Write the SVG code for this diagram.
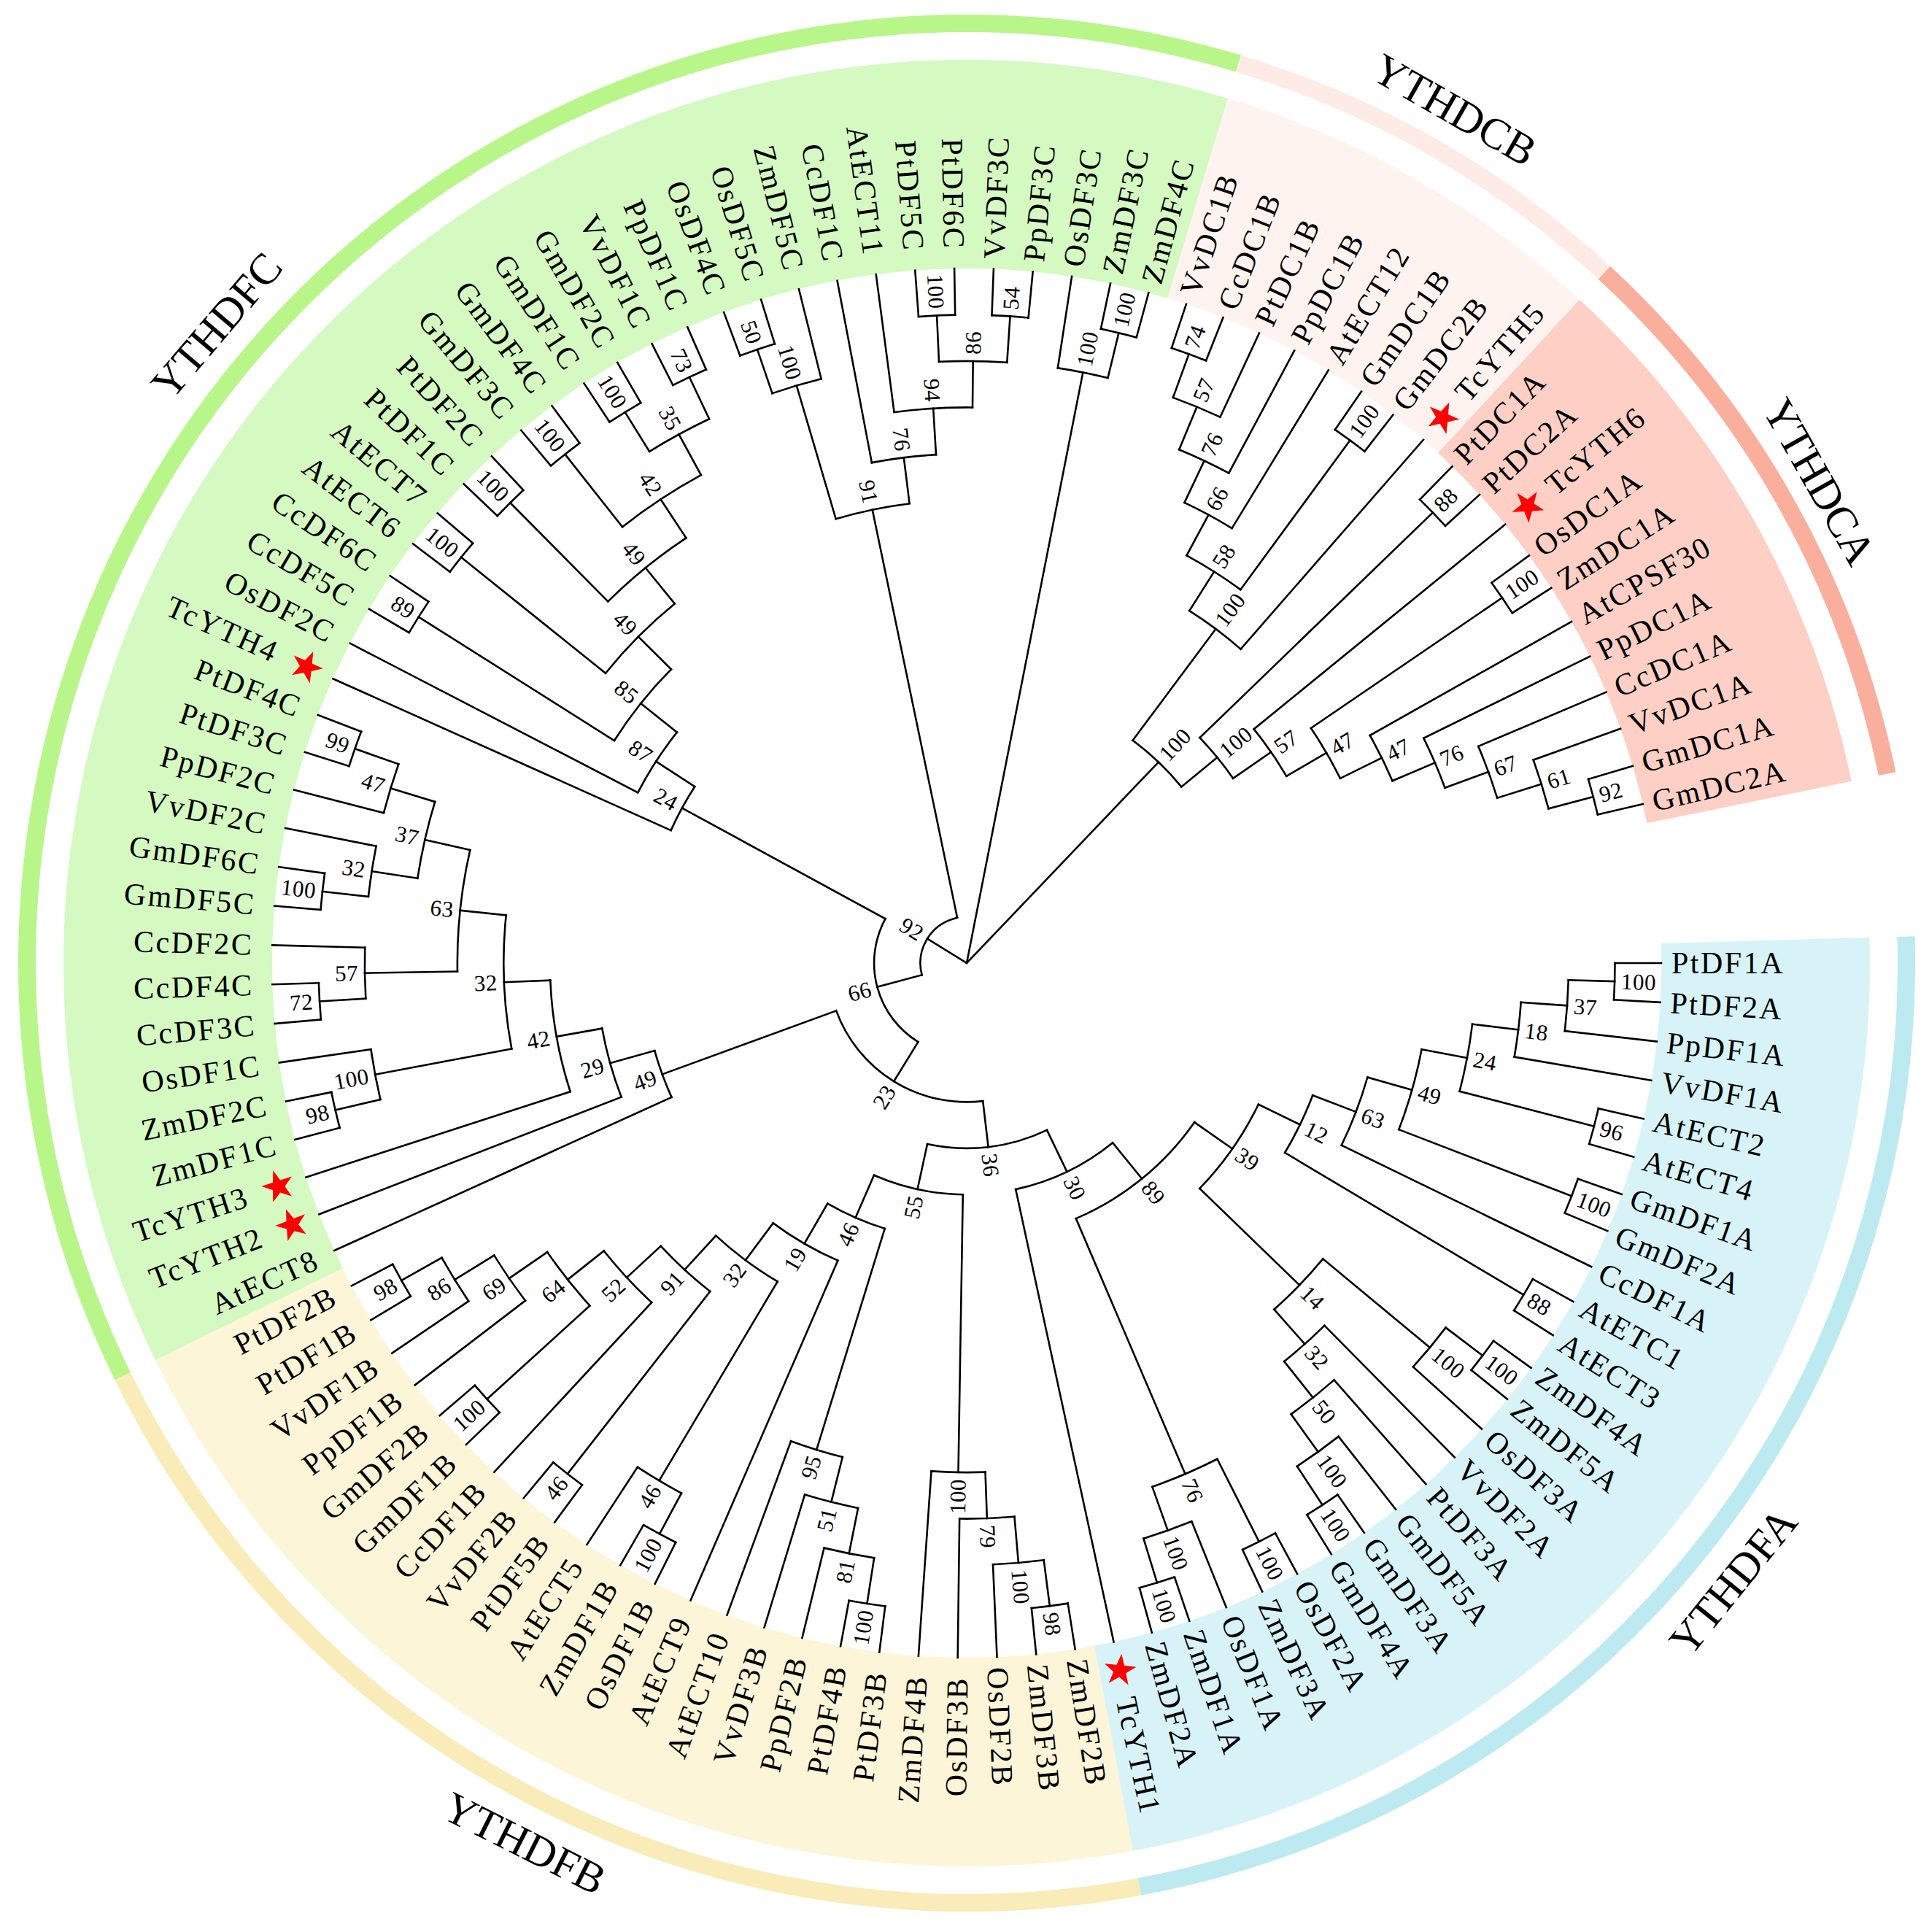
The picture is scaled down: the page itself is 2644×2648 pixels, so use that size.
<svg xmlns="http://www.w3.org/2000/svg" xmlns:xlink="http://www.w3.org/1999/xlink" width="2644" height="2648" viewBox="0 0 2644 2648">
<style>
.t{font-family:"Liberation Serif","Times New Roman",serif;font-size:42px;letter-spacing:2.5px;fill:#000}
.b{font-family:"Liberation Serif","Times New Roman",serif;font-size:31px;letter-spacing:0.5px;fill:#000}
.e{text-anchor:end}
.c{font-family:"Liberation Serif","Times New Roman",serif;font-size:60px;text-anchor:middle;fill:#000}
#connectors circle,#connectors path{fill:none;stroke:#000;stroke-width:2.6;stroke-linecap:square}
.bd{fill:none;stroke-width:286}
.rg{fill:none;stroke-width:24}
</style>
<defs>
<path id="s" d="M0,-23L5.29,-7.28L21.87,-7.11L8.56,2.78L13.52,18.61L0,9L-13.52,18.61L-8.56,2.78L-21.87,-7.11L-5.29,-7.28Z" fill="#ff0000"/>
</defs>
<rect width="2644" height="2648" fill="#fff"/>
<g transform="translate(1325 1320)">
<g id="bands">
<circle class="bd" r="1095" stroke="#d7f3f8" stroke-dasharray="1548.35 99999" transform="rotate(-1.6204)"/>
<circle class="bd" r="1095" stroke="#fcf5d7" stroke-dasharray="1424.48 99999" transform="rotate(79.3982)"/>
<circle class="bd" r="1095" stroke="#d4f9c1" stroke-dasharray="2539.29 99999" transform="rotate(153.9352)"/>
<circle class="bd" r="1095" stroke="#fff3ef" stroke-dasharray="495.47 99999" transform="rotate(286.8056)"/>
<circle class="bd" r="1095" stroke="#fdcfc5" stroke-dasharray="681.27 99999" transform="rotate(312.7315)"/>
</g>
<g id="rings">
<circle class="rg" r="1288" stroke="#bdeaf0" stroke-dasharray="1821.3 99999" transform="rotate(-1.6204)"/>
<circle class="rg" r="1288" stroke="#f9ecb8" stroke-dasharray="1675.6 99999" transform="rotate(79.3982)"/>
<circle class="rg" r="1288" stroke="#b8f68a" stroke-dasharray="2986.9 99999" transform="rotate(153.9352)"/>
<circle class="rg" r="1288" stroke="#feebe6" stroke-dasharray="582.8 99999" transform="rotate(286.8056)"/>
<circle class="rg" r="1288" stroke="#faae9c" stroke-dasharray="801.4 99999" transform="rotate(312.7315)"/>
</g>
<g id="connectors">
<circle r="888.5" stroke-dasharray="50.26 9999" transform="rotate(0)"/>
<circle r="825.1" stroke-dasharray="70 9999" transform="rotate(1.6204)"/>
<circle r="761.6" stroke-dasharray="75.38 9999" transform="rotate(4.0509)"/>
<circle r="888.5" stroke-dasharray="50.26 9999" transform="rotate(12.963)"/>
<circle r="698.1" stroke-dasharray="93.78 9999" transform="rotate(6.8866)"/>
<circle r="888.5" stroke-dasharray="50.26 9999" transform="rotate(19.4444)"/>
<circle r="634.7" stroke-dasharray="114.42 9999" transform="rotate(10.735)"/>
<circle r="571.2" stroke-dasharray="99.95 9999" transform="rotate(15.8999)"/>
<circle r="888.5" stroke-dasharray="50.26 9999" transform="rotate(29.1667)"/>
<circle r="507.7" stroke-dasharray="87.5 9999" transform="rotate(20.9129)"/>
<circle r="888.5" stroke-dasharray="50.26 9999" transform="rotate(35.6481)"/>
<circle r="825.1" stroke-dasharray="70 9999" transform="rotate(37.2685)"/>
<circle r="888.5" stroke-dasharray="50.26 9999" transform="rotate(55.0926)"/>
<circle r="825.1" stroke-dasharray="70 9999" transform="rotate(51.8519)"/>
<circle r="761.6" stroke-dasharray="75.38 9999" transform="rotate(48.6111)"/>
<circle r="698.1" stroke-dasharray="74.04 9999" transform="rotate(45.3704)"/>
<circle r="634.7" stroke-dasharray="96.47 9999" transform="rotate(39.6991)"/>
<circle r="444.3" stroke-dasharray="141.15 9999" transform="rotate(25.85)"/>
<circle r="888.5" stroke-dasharray="50.26 9999" transform="rotate(61.5741)"/>
<circle r="888.5" stroke-dasharray="50.26 9999" transform="rotate(71.2963)"/>
<circle r="825.1" stroke-dasharray="70 9999" transform="rotate(68.0556)"/>
<circle r="761.6" stroke-dasharray="96.92 9999" transform="rotate(63.1944)"/>
<circle r="380.8" stroke-dasharray="211.93 9999" transform="rotate(34.952)"/>
<circle r="317.3" stroke-dasharray="148.87 9999" transform="rotate(50.8962)"/>
<circle r="888.5" stroke-dasharray="50.26 9999" transform="rotate(81.0185)"/>
<circle r="825.1" stroke-dasharray="70 9999" transform="rotate(82.6389)"/>
<circle r="761.6" stroke-dasharray="75.38 9999" transform="rotate(85.0694)"/>
<circle r="698.1" stroke-dasharray="74.04 9999" transform="rotate(87.9051)"/>
<circle r="888.5" stroke-dasharray="50.26 9999" transform="rotate(97.2222)"/>
<circle r="825.1" stroke-dasharray="70 9999" transform="rotate(98.8426)"/>
<circle r="761.6" stroke-dasharray="75.38 9999" transform="rotate(101.2732)"/>
<circle r="698.1" stroke-dasharray="74.04 9999" transform="rotate(104.1088)"/>
<circle r="888.5" stroke-dasharray="50.26 9999" transform="rotate(116.6667)"/>
<circle r="825.1" stroke-dasharray="70 9999" transform="rotate(118.287)"/>
<circle r="888.5" stroke-dasharray="50.26 9999" transform="rotate(126.3889)"/>
<circle r="888.5" stroke-dasharray="50.26 9999" transform="rotate(136.1111)"/>
<circle r="888.5" stroke-dasharray="50.26 9999" transform="rotate(149.0741)"/>
<circle r="825.1" stroke-dasharray="70 9999" transform="rotate(145.8333)"/>
<circle r="761.6" stroke-dasharray="75.38 9999" transform="rotate(142.5926)"/>
<circle r="698.1" stroke-dasharray="93.78 9999" transform="rotate(137.7315)"/>
<circle r="634.7" stroke-dasharray="96.47 9999" transform="rotate(132.8704)"/>
<circle r="571.2" stroke-dasharray="91.87 9999" transform="rotate(128.0093)"/>
<circle r="507.7" stroke-dasharray="105.45 9999" transform="rotate(120.7176)"/>
<circle r="444.3" stroke-dasharray="102.67 9999" transform="rotate(113.4259)"/>
<circle r="380.8" stroke-dasharray="85.73 9999" transform="rotate(107.147)"/>
<circle r="317.3" stroke-dasharray="125.45 9999" transform="rotate(90.9433)"/>
<circle r="253.9" stroke-dasharray="168.08 9999" transform="rotate(64.337)"/>
<circle r="888.5" stroke-dasharray="50.26 9999" transform="rotate(165.2778)"/>
<circle r="825.1" stroke-dasharray="70 9999" transform="rotate(166.8982)"/>
<circle r="888.5" stroke-dasharray="50.26 9999" transform="rotate(175)"/>
<circle r="825.1" stroke-dasharray="70 9999" transform="rotate(176.6204)"/>
<circle r="888.5" stroke-dasharray="50.26 9999" transform="rotate(184.7222)"/>
<circle r="825.1" stroke-dasharray="70 9999" transform="rotate(186.3426)"/>
<circle r="888.5" stroke-dasharray="50.26 9999" transform="rotate(197.6852)"/>
<circle r="825.1" stroke-dasharray="70 9999" transform="rotate(194.4444)"/>
<circle r="761.6" stroke-dasharray="107.69 9999" transform="rotate(188.7732)"/>
<circle r="698.1" stroke-dasharray="167.83 9999" transform="rotate(179.051)"/>
<circle r="634.7" stroke-dasharray="183.98 9999" transform="rotate(169.3288)"/>
<circle r="571.2" stroke-dasharray="155.48 9999" transform="rotate(162.037)"/>
<circle r="507.7" stroke-dasharray="97.83 9999" transform="rotate(158.7963)"/>
<circle r="444.3" stroke-dasharray="67.93 9999" transform="rotate(155.5556)"/>
<circle r="190.4" stroke-dasharray="254.65 9999" transform="rotate(83.3036)"/>
<circle r="888.5" stroke-dasharray="50.26 9999" transform="rotate(210.6481)"/>
<circle r="888.5" stroke-dasharray="50.26 9999" transform="rotate(217.1296)"/>
<circle r="888.5" stroke-dasharray="50.26 9999" transform="rotate(223.6111)"/>
<circle r="888.5" stroke-dasharray="50.26 9999" transform="rotate(230.0926)"/>
<circle r="888.5" stroke-dasharray="50.26 9999" transform="rotate(236.5741)"/>
<circle r="888.5" stroke-dasharray="50.26 9999" transform="rotate(243.0556)"/>
<circle r="825.1" stroke-dasharray="93.33 9999" transform="rotate(238.1944)"/>
<circle r="761.6" stroke-dasharray="129.23 9999" transform="rotate(231.713)"/>
<circle r="698.1" stroke-dasharray="138.21 9999" transform="rotate(225.2315)"/>
<circle r="634.7" stroke-dasharray="134.62 9999" transform="rotate(218.75)"/>
<circle r="571.2" stroke-dasharray="125.19 9999" transform="rotate(212.2685)"/>
<circle r="507.7" stroke-dasharray="98.72 9999" transform="rotate(207.4074)"/>
<circle r="444.3" stroke-dasharray="68.32 9999" transform="rotate(204.1667)"/>
<circle r="126.9" stroke-dasharray="192.6 9999" transform="rotate(121.6197)"/>
<circle r="888.5" stroke-dasharray="50.26 9999" transform="rotate(249.537)"/>
<circle r="825.1" stroke-dasharray="70 9999" transform="rotate(251.1574)"/>
<circle r="888.5" stroke-dasharray="50.26 9999" transform="rotate(265.7407)"/>
<circle r="888.5" stroke-dasharray="50.26 9999" transform="rotate(272.2222)"/>
<circle r="825.1" stroke-dasharray="93.33 9999" transform="rotate(267.3611)"/>
<circle r="761.6" stroke-dasharray="107.69 9999" transform="rotate(262.5)"/>
<circle r="698.1" stroke-dasharray="88.85 9999" transform="rotate(259.2593)"/>
<circle r="634.7" stroke-dasharray="103.21 9999" transform="rotate(253.588)"/>
<circle r="63.5" stroke-dasharray="103.21 9999" transform="rotate(165.0959)"/>
<circle r="888.5" stroke-dasharray="50.26 9999" transform="rotate(281.9444)"/>
<circle r="825.1" stroke-dasharray="70 9999" transform="rotate(278.7037)"/>
<circle r="888.5" stroke-dasharray="50.26 9999" transform="rotate(288.4259)"/>
<circle r="825.1" stroke-dasharray="70 9999" transform="rotate(290.0463)"/>
<circle r="761.6" stroke-dasharray="75.38 9999" transform="rotate(292.4769)"/>
<circle r="698.1" stroke-dasharray="74.04 9999" transform="rotate(295.3125)"/>
<circle r="888.5" stroke-dasharray="50.26 9999" transform="rotate(304.6296)"/>
<circle r="634.7" stroke-dasharray="87.5 9999" transform="rotate(298.3507)"/>
<circle r="571.2" stroke-dasharray="87.83 9999" transform="rotate(302.3004)"/>
<circle r="888.5" stroke-dasharray="50.26 9999" transform="rotate(314.3519)"/>
<circle r="888.5" stroke-dasharray="50.26 9999" transform="rotate(324.0741)"/>
<circle r="888.5" stroke-dasharray="50.26 9999" transform="rotate(343.5185)"/>
<circle r="825.1" stroke-dasharray="70 9999" transform="rotate(340.2778)"/>
<circle r="761.6" stroke-dasharray="75.38 9999" transform="rotate(337.037)"/>
<circle r="698.1" stroke-dasharray="74.04 9999" transform="rotate(333.7963)"/>
<circle r="634.7" stroke-dasharray="69.55 9999" transform="rotate(330.5556)"/>
<circle r="571.2" stroke-dasharray="79.76 9999" transform="rotate(325.6944)"/>
<circle r="507.7" stroke-dasharray="78.53 9999" transform="rotate(320.8333)"/>
<circle r="444.3" stroke-dasharray="72.05 9999" transform="rotate(315.9722)"/>
<circle r="380.8" stroke-dasharray="92.46 9999" transform="rotate(306.7058)"/>
<path d="M888.5 0H952" transform="rotate(0)"/>
<path d="M888.5 0H952" transform="rotate(3.2407)"/>
<path d="M825.1 0H952" transform="rotate(6.4815)"/>
<path d="M761.6 0H952" transform="rotate(9.7222)"/>
<path d="M888.5 0H952" transform="rotate(12.963)"/>
<path d="M888.5 0H952" transform="rotate(16.2037)"/>
<path d="M888.5 0H952" transform="rotate(19.4444)"/>
<path d="M888.5 0H952" transform="rotate(22.6852)"/>
<path d="M571.2 0H952" transform="rotate(25.9259)"/>
<path d="M888.5 0H952" transform="rotate(29.1667)"/>
<path d="M888.5 0H952" transform="rotate(32.4074)"/>
<path d="M888.5 0H952" transform="rotate(35.6481)"/>
<path d="M888.5 0H952" transform="rotate(38.8889)"/>
<path d="M825.1 0H952" transform="rotate(42.1296)"/>
<path d="M698.1 0H952" transform="rotate(45.3704)"/>
<path d="M761.6 0H952" transform="rotate(48.6111)"/>
<path d="M825.1 0H952" transform="rotate(51.8519)"/>
<path d="M888.5 0H952" transform="rotate(55.0926)"/>
<path d="M888.5 0H952" transform="rotate(58.3333)"/>
<path d="M888.5 0H952" transform="rotate(61.5741)"/>
<path d="M888.5 0H952" transform="rotate(64.8148)"/>
<path d="M825.1 0H952" transform="rotate(68.0556)"/>
<path d="M888.5 0H952" transform="rotate(71.2963)"/>
<path d="M888.5 0H952" transform="rotate(74.537)"/>
<path d="M317.3 0H952" transform="rotate(77.7778)"/>
<path d="M888.5 0H952" transform="rotate(81.0185)"/>
<path d="M888.5 0H952" transform="rotate(84.2593)"/>
<path d="M825.1 0H952" transform="rotate(87.5)"/>
<path d="M761.6 0H952" transform="rotate(90.7407)"/>
<path d="M698.1 0H952" transform="rotate(93.9815)"/>
<path d="M888.5 0H952" transform="rotate(97.2222)"/>
<path d="M888.5 0H952" transform="rotate(100.463)"/>
<path d="M825.1 0H952" transform="rotate(103.7037)"/>
<path d="M761.6 0H952" transform="rotate(106.9444)"/>
<path d="M698.1 0H952" transform="rotate(110.1852)"/>
<path d="M444.3 0H952" transform="rotate(113.4259)"/>
<path d="M888.5 0H952" transform="rotate(116.6667)"/>
<path d="M888.5 0H952" transform="rotate(119.9074)"/>
<path d="M825.1 0H952" transform="rotate(123.1481)"/>
<path d="M888.5 0H952" transform="rotate(126.3889)"/>
<path d="M888.5 0H952" transform="rotate(129.6296)"/>
<path d="M634.7 0H952" transform="rotate(132.8704)"/>
<path d="M888.5 0H952" transform="rotate(136.1111)"/>
<path d="M888.5 0H952" transform="rotate(139.3519)"/>
<path d="M761.6 0H952" transform="rotate(142.5926)"/>
<path d="M825.1 0H952" transform="rotate(145.8333)"/>
<path d="M888.5 0H952" transform="rotate(149.0741)"/>
<path d="M888.5 0H952" transform="rotate(152.3148)"/>
<path d="M444.3 0H952" transform="rotate(155.5556)"/>
<path d="M507.7 0H952" transform="rotate(158.7963)"/>
<path d="M571.2 0H952" transform="rotate(162.037)"/>
<path d="M888.5 0H952" transform="rotate(165.2778)"/>
<path d="M888.5 0H952" transform="rotate(168.5185)"/>
<path d="M825.1 0H952" transform="rotate(171.7593)"/>
<path d="M888.5 0H952" transform="rotate(175)"/>
<path d="M888.5 0H952" transform="rotate(178.2407)"/>
<path d="M825.1 0H952" transform="rotate(181.4815)"/>
<path d="M888.5 0H952" transform="rotate(184.7222)"/>
<path d="M888.5 0H952" transform="rotate(187.963)"/>
<path d="M825.1 0H952" transform="rotate(191.2037)"/>
<path d="M825.1 0H952" transform="rotate(194.4444)"/>
<path d="M888.5 0H952" transform="rotate(197.6852)"/>
<path d="M888.5 0H952" transform="rotate(200.9259)"/>
<path d="M444.3 0H952" transform="rotate(204.1667)"/>
<path d="M507.7 0H952" transform="rotate(207.4074)"/>
<path d="M888.5 0H952" transform="rotate(210.6481)"/>
<path d="M888.5 0H952" transform="rotate(213.8889)"/>
<path d="M888.5 0H952" transform="rotate(217.1296)"/>
<path d="M888.5 0H952" transform="rotate(220.3704)"/>
<path d="M888.5 0H952" transform="rotate(223.6111)"/>
<path d="M888.5 0H952" transform="rotate(226.8519)"/>
<path d="M888.5 0H952" transform="rotate(230.0926)"/>
<path d="M888.5 0H952" transform="rotate(233.3333)"/>
<path d="M888.5 0H952" transform="rotate(236.5741)"/>
<path d="M888.5 0H952" transform="rotate(239.8148)"/>
<path d="M888.5 0H952" transform="rotate(243.0556)"/>
<path d="M888.5 0H952" transform="rotate(246.2963)"/>
<path d="M888.5 0H952" transform="rotate(249.537)"/>
<path d="M888.5 0H952" transform="rotate(252.7778)"/>
<path d="M825.1 0H952" transform="rotate(256.0185)"/>
<path d="M698.1 0H952" transform="rotate(259.2593)"/>
<path d="M761.6 0H952" transform="rotate(262.5)"/>
<path d="M888.5 0H952" transform="rotate(265.7407)"/>
<path d="M888.5 0H952" transform="rotate(268.9815)"/>
<path d="M888.5 0H952" transform="rotate(272.2222)"/>
<path d="M888.5 0H952" transform="rotate(275.463)"/>
<path d="M825.1 0H952" transform="rotate(278.7037)"/>
<path d="M888.5 0H952" transform="rotate(281.9444)"/>
<path d="M888.5 0H952" transform="rotate(285.1852)"/>
<path d="M888.5 0H952" transform="rotate(288.4259)"/>
<path d="M888.5 0H952" transform="rotate(291.6667)"/>
<path d="M825.1 0H952" transform="rotate(294.9074)"/>
<path d="M761.6 0H952" transform="rotate(298.1481)"/>
<path d="M698.1 0H952" transform="rotate(301.3889)"/>
<path d="M888.5 0H952" transform="rotate(304.6296)"/>
<path d="M888.5 0H952" transform="rotate(307.8704)"/>
<path d="M571.2 0H952" transform="rotate(311.1111)"/>
<path d="M888.5 0H952" transform="rotate(314.3519)"/>
<path d="M888.5 0H952" transform="rotate(317.5926)"/>
<path d="M507.7 0H952" transform="rotate(320.8333)"/>
<path d="M888.5 0H952" transform="rotate(324.0741)"/>
<path d="M888.5 0H952" transform="rotate(327.3148)"/>
<path d="M634.7 0H952" transform="rotate(330.5556)"/>
<path d="M698.1 0H952" transform="rotate(333.7963)"/>
<path d="M761.6 0H952" transform="rotate(337.037)"/>
<path d="M825.1 0H952" transform="rotate(340.2778)"/>
<path d="M888.5 0H952" transform="rotate(343.5185)"/>
<path d="M888.5 0H952" transform="rotate(346.7593)"/>
<path d="M825.1 0H888.5" transform="rotate(1.6204)"/>
<path d="M761.6 0H825.1" transform="rotate(4.0509)"/>
<path d="M698.1 0H761.6" transform="rotate(6.8866)"/>
<path d="M698.1 0H888.5" transform="rotate(14.5833)"/>
<path d="M634.7 0H698.1" transform="rotate(10.735)"/>
<path d="M634.7 0H888.5" transform="rotate(21.0648)"/>
<path d="M571.2 0H634.7" transform="rotate(15.8999)"/>
<path d="M507.7 0H571.2" transform="rotate(20.9129)"/>
<path d="M507.7 0H888.5" transform="rotate(30.787)"/>
<path d="M444.3 0H507.7" transform="rotate(25.85)"/>
<path d="M825.1 0H888.5" transform="rotate(37.2685)"/>
<path d="M634.7 0H825.1" transform="rotate(39.6991)"/>
<path d="M825.1 0H888.5" transform="rotate(56.713)"/>
<path d="M761.6 0H825.1" transform="rotate(54.2824)"/>
<path d="M698.1 0H761.6" transform="rotate(51.4468)"/>
<path d="M634.7 0H698.1" transform="rotate(48.4086)"/>
<path d="M444.3 0H634.7" transform="rotate(44.0539)"/>
<path d="M380.8 0H444.3" transform="rotate(34.952)"/>
<path d="M761.6 0H888.5" transform="rotate(63.1944)"/>
<path d="M825.1 0H888.5" transform="rotate(72.9167)"/>
<path d="M761.6 0H825.1" transform="rotate(70.4861)"/>
<path d="M380.8 0H761.6" transform="rotate(66.8403)"/>
<path d="M317.3 0H380.8" transform="rotate(50.8962)"/>
<path d="M253.9 0H317.3" transform="rotate(64.337)"/>
<path d="M825.1 0H888.5" transform="rotate(82.6389)"/>
<path d="M761.6 0H825.1" transform="rotate(85.0694)"/>
<path d="M698.1 0H761.6" transform="rotate(87.9051)"/>
<path d="M317.3 0H698.1" transform="rotate(90.9433)"/>
<path d="M825.1 0H888.5" transform="rotate(98.8426)"/>
<path d="M761.6 0H825.1" transform="rotate(101.2732)"/>
<path d="M698.1 0H761.6" transform="rotate(104.1088)"/>
<path d="M380.8 0H698.1" transform="rotate(107.147)"/>
<path d="M825.1 0H888.5" transform="rotate(118.287)"/>
<path d="M507.7 0H825.1" transform="rotate(120.7176)"/>
<path d="M571.2 0H888.5" transform="rotate(128.0093)"/>
<path d="M698.1 0H888.5" transform="rotate(137.7315)"/>
<path d="M825.1 0H888.5" transform="rotate(150.6944)"/>
<path d="M761.6 0H825.1" transform="rotate(148.2639)"/>
<path d="M698.1 0H761.6" transform="rotate(145.4282)"/>
<path d="M634.7 0H698.1" transform="rotate(141.5799)"/>
<path d="M571.2 0H634.7" transform="rotate(137.2251)"/>
<path d="M507.7 0H571.2" transform="rotate(132.6172)"/>
<path d="M444.3 0H507.7" transform="rotate(126.6674)"/>
<path d="M380.8 0H444.3" transform="rotate(120.0466)"/>
<path d="M317.3 0H380.8" transform="rotate(113.5968)"/>
<path d="M253.9 0H317.3" transform="rotate(102.2701)"/>
<path d="M190.4 0H253.9" transform="rotate(83.3036)"/>
<path d="M825.1 0H888.5" transform="rotate(166.8982)"/>
<path d="M634.7 0H825.1" transform="rotate(169.3288)"/>
<path d="M825.1 0H888.5" transform="rotate(176.6204)"/>
<path d="M698.1 0H825.1" transform="rotate(179.051)"/>
<path d="M825.1 0H888.5" transform="rotate(186.3426)"/>
<path d="M761.6 0H825.1" transform="rotate(188.7732)"/>
<path d="M825.1 0H888.5" transform="rotate(199.3056)"/>
<path d="M761.6 0H825.1" transform="rotate(196.875)"/>
<path d="M698.1 0H761.6" transform="rotate(192.8241)"/>
<path d="M634.7 0H698.1" transform="rotate(185.9376)"/>
<path d="M571.2 0H634.7" transform="rotate(177.6332)"/>
<path d="M507.7 0H571.2" transform="rotate(169.8351)"/>
<path d="M444.3 0H507.7" transform="rotate(164.3157)"/>
<path d="M190.4 0H444.3" transform="rotate(159.9357)"/>
<path d="M126.9 0H190.4" transform="rotate(121.6197)"/>
<path d="M571.2 0H888.5" transform="rotate(212.2685)"/>
<path d="M634.7 0H888.5" transform="rotate(218.75)"/>
<path d="M698.1 0H888.5" transform="rotate(225.2315)"/>
<path d="M761.6 0H888.5" transform="rotate(231.713)"/>
<path d="M825.1 0H888.5" transform="rotate(238.1944)"/>
<path d="M825.1 0H888.5" transform="rotate(244.6759)"/>
<path d="M761.6 0H825.1" transform="rotate(241.4352)"/>
<path d="M698.1 0H761.6" transform="rotate(236.5741)"/>
<path d="M634.7 0H698.1" transform="rotate(230.9028)"/>
<path d="M571.2 0H634.7" transform="rotate(224.8264)"/>
<path d="M507.7 0H571.2" transform="rotate(218.5475)"/>
<path d="M444.3 0H507.7" transform="rotate(212.9775)"/>
<path d="M126.9 0H444.3" transform="rotate(208.5721)"/>
<path d="M63.5 0H126.9" transform="rotate(165.0959)"/>
<path d="M825.1 0H888.5" transform="rotate(251.1574)"/>
<path d="M634.7 0H825.1" transform="rotate(253.588)"/>
<path d="M825.1 0H888.5" transform="rotate(267.3611)"/>
<path d="M825.1 0H888.5" transform="rotate(273.8426)"/>
<path d="M761.6 0H825.1" transform="rotate(270.6019)"/>
<path d="M698.1 0H761.6" transform="rotate(266.551)"/>
<path d="M634.7 0H698.1" transform="rotate(262.9052)"/>
<path d="M63.5 0H634.7" transform="rotate(258.2466)"/>
<path d="M0 0H63.5" transform="rotate(211.6713)"/>
<path d="M825.1 0H888.5" transform="rotate(283.5648)"/>
<path d="M0 0H825.1" transform="rotate(281.1343)"/>
<path d="M825.1 0H888.5" transform="rotate(290.0463)"/>
<path d="M761.6 0H825.1" transform="rotate(292.4769)"/>
<path d="M698.1 0H761.6" transform="rotate(295.3125)"/>
<path d="M634.7 0H698.1" transform="rotate(298.3507)"/>
<path d="M634.7 0H888.5" transform="rotate(306.25)"/>
<path d="M571.2 0H634.7" transform="rotate(302.3004)"/>
<path d="M380.8 0H571.2" transform="rotate(306.7058)"/>
<path d="M444.3 0H888.5" transform="rotate(315.9722)"/>
<path d="M571.2 0H888.5" transform="rotate(325.6944)"/>
<path d="M825.1 0H888.5" transform="rotate(345.1389)"/>
<path d="M761.6 0H825.1" transform="rotate(342.7083)"/>
<path d="M698.1 0H761.6" transform="rotate(339.8727)"/>
<path d="M634.7 0H698.1" transform="rotate(336.8345)"/>
<path d="M571.2 0H634.7" transform="rotate(333.695)"/>
<path d="M507.7 0H571.2" transform="rotate(329.6947)"/>
<path d="M444.3 0H507.7" transform="rotate(325.264)"/>
<path d="M380.8 0H444.3" transform="rotate(320.6181)"/>
<path d="M0 0H380.8" transform="rotate(313.662)"/>
</g>
<g id="leaves">
<g id="leaf-PtDF1A"><text class="t" transform="rotate(0)" x="966" y="14">PtDF1A</text></g>
<g id="leaf-PtDF2A"><text class="t" transform="rotate(3.2407)" x="966" y="14">PtDF2A</text></g>
<g id="leaf-PpDF1A"><text class="t" transform="rotate(6.4815)" x="966" y="14">PpDF1A</text></g>
<g id="leaf-VvDF1A"><text class="t" transform="rotate(9.7222)" x="966" y="14">VvDF1A</text></g>
<g id="leaf-AtECT2"><text class="t" transform="rotate(12.963)" x="966" y="14">AtECT2</text></g>
<g id="leaf-AtECT4"><text class="t" transform="rotate(16.2037)" x="966" y="14">AtECT4</text></g>
<g id="leaf-GmDF1A"><text class="t" transform="rotate(19.4444)" x="966" y="14">GmDF1A</text></g>
<g id="leaf-GmDF2A"><text class="t" transform="rotate(22.6852)" x="966" y="14">GmDF2A</text></g>
<g id="leaf-CcDF1A"><text class="t" transform="rotate(25.9259)" x="966" y="14">CcDF1A</text></g>
<g id="leaf-AtETC1"><text class="t" transform="rotate(29.1667)" x="966" y="14">AtETC1</text></g>
<g id="leaf-AtECT3"><text class="t" transform="rotate(32.4074)" x="966" y="14">AtECT3</text></g>
<g id="leaf-ZmDF4A"><text class="t" transform="rotate(35.6481)" x="966" y="14">ZmDF4A</text></g>
<g id="leaf-ZmDF5A"><text class="t" transform="rotate(38.8889)" x="966" y="14">ZmDF5A</text></g>
<g id="leaf-OsDF3A"><text class="t" transform="rotate(42.1296)" x="966" y="14">OsDF3A</text></g>
<g id="leaf-VvDF2A"><text class="t" transform="rotate(45.3704)" x="966" y="14">VvDF2A</text></g>
<g id="leaf-PtDF3A"><text class="t" transform="rotate(48.6111)" x="966" y="14">PtDF3A</text></g>
<g id="leaf-GmDF5A"><text class="t" transform="rotate(51.8519)" x="966" y="14">GmDF5A</text></g>
<g id="leaf-GmDF3A"><text class="t" transform="rotate(55.0926)" x="966" y="14">GmDF3A</text></g>
<g id="leaf-GmDF4A"><text class="t" transform="rotate(58.3333)" x="966" y="14">GmDF4A</text></g>
<g id="leaf-OsDF2A"><text class="t" transform="rotate(61.5741)" x="966" y="14">OsDF2A</text></g>
<g id="leaf-ZmDF3A"><text class="t" transform="rotate(64.8148)" x="966" y="14">ZmDF3A</text></g>
<g id="leaf-OsDF1A"><text class="t" transform="rotate(68.0556)" x="966" y="14">OsDF1A</text></g>
<g id="leaf-ZmDF1A"><text class="t" transform="rotate(71.2963)" x="966" y="14">ZmDF1A</text></g>
<g id="leaf-ZmDF2A"><text class="t" transform="rotate(74.537)" x="966" y="14">ZmDF2A</text></g>
<g id="leaf-TcYTH1"><use xlink:href="#s" transform="rotate(77.7778) translate(992 0)"/><text class="t" transform="rotate(77.7778)" x="1030" y="14">TcYTH1</text></g>
<g id="leaf-ZmDF2B"><text class="t" transform="rotate(81.0185)" x="966" y="14">ZmDF2B</text></g>
<g id="leaf-ZmDF3B"><text class="t" transform="rotate(84.2593)" x="966" y="14">ZmDF3B</text></g>
<g id="leaf-OsDF2B"><text class="t" transform="rotate(87.5)" x="966" y="14">OsDF2B</text></g>
<g id="leaf-OsDF3B"><text class="t e" transform="rotate(-89.2593)" x="-978" y="14">OsDF3B</text></g>
<g id="leaf-ZmDF4B"><text class="t e" transform="rotate(-86.0185)" x="-978" y="14">ZmDF4B</text></g>
<g id="leaf-PtDF3B"><text class="t e" transform="rotate(-82.7778)" x="-978" y="14">PtDF3B</text></g>
<g id="leaf-PtDF4B"><text class="t e" transform="rotate(-79.537)" x="-978" y="14">PtDF4B</text></g>
<g id="leaf-PpDF2B"><text class="t e" transform="rotate(-76.2963)" x="-978" y="14">PpDF2B</text></g>
<g id="leaf-VvDF3B"><text class="t e" transform="rotate(-73.0556)" x="-978" y="14">VvDF3B</text></g>
<g id="leaf-AtECT10"><text class="t e" transform="rotate(-69.8148)" x="-978" y="14">AtECT10</text></g>
<g id="leaf-AtECT9"><text class="t e" transform="rotate(-66.5741)" x="-978" y="14">AtECT9</text></g>
<g id="leaf-OsDF1B"><text class="t e" transform="rotate(-63.3333)" x="-978" y="14">OsDF1B</text></g>
<g id="leaf-ZmDF1B"><text class="t e" transform="rotate(-60.0926)" x="-978" y="14">ZmDF1B</text></g>
<g id="leaf-AtECT5"><text class="t e" transform="rotate(-56.8519)" x="-978" y="14">AtECT5</text></g>
<g id="leaf-PtDF5B"><text class="t e" transform="rotate(-53.6111)" x="-978" y="14">PtDF5B</text></g>
<g id="leaf-VvDF2B"><text class="t e" transform="rotate(-50.3704)" x="-978" y="14">VvDF2B</text></g>
<g id="leaf-CcDF1B"><text class="t e" transform="rotate(-47.1296)" x="-978" y="14">CcDF1B</text></g>
<g id="leaf-GmDF1B"><text class="t e" transform="rotate(-43.8889)" x="-978" y="14">GmDF1B</text></g>
<g id="leaf-GmDF2B"><text class="t e" transform="rotate(-40.6481)" x="-978" y="14">GmDF2B</text></g>
<g id="leaf-PpDF1B"><text class="t e" transform="rotate(-37.4074)" x="-978" y="14">PpDF1B</text></g>
<g id="leaf-VvDF1B"><text class="t e" transform="rotate(-34.1667)" x="-978" y="14">VvDF1B</text></g>
<g id="leaf-PtDF1B"><text class="t e" transform="rotate(-30.9259)" x="-978" y="14">PtDF1B</text></g>
<g id="leaf-PtDF2B"><text class="t e" transform="rotate(-27.6852)" x="-978" y="14">PtDF2B</text></g>
<g id="leaf-AtECT8"><text class="t e" transform="rotate(-24.4444)" x="-978" y="14">AtECT8</text></g>
<g id="leaf-TcYTH2"><use xlink:href="#s" transform="rotate(-21.2037) translate(-992 0)"/><text class="t e" transform="rotate(-21.2037)" x="-1036" y="14">TcYTH2</text></g>
<g id="leaf-TcYTH3"><use xlink:href="#s" transform="rotate(-17.963) translate(-992 0)"/><text class="t e" transform="rotate(-17.963)" x="-1036" y="14">TcYTH3</text></g>
<g id="leaf-ZmDF1C"><text class="t e" transform="rotate(-14.7222)" x="-978" y="14">ZmDF1C</text></g>
<g id="leaf-ZmDF2C"><text class="t e" transform="rotate(-11.4815)" x="-978" y="14">ZmDF2C</text></g>
<g id="leaf-OsDF1C"><text class="t e" transform="rotate(-8.2407)" x="-978" y="14">OsDF1C</text></g>
<g id="leaf-CcDF3C"><text class="t e" transform="rotate(-5)" x="-978" y="14">CcDF3C</text></g>
<g id="leaf-CcDF4C"><text class="t e" transform="rotate(-1.7593)" x="-978" y="14">CcDF4C</text></g>
<g id="leaf-CcDF2C"><text class="t e" transform="rotate(1.4815)" x="-978" y="14">CcDF2C</text></g>
<g id="leaf-GmDF5C"><text class="t e" transform="rotate(4.7222)" x="-978" y="14">GmDF5C</text></g>
<g id="leaf-GmDF6C"><text class="t e" transform="rotate(7.963)" x="-978" y="14">GmDF6C</text></g>
<g id="leaf-VvDF2C"><text class="t e" transform="rotate(11.2037)" x="-978" y="14">VvDF2C</text></g>
<g id="leaf-PpDF2C"><text class="t e" transform="rotate(14.4444)" x="-978" y="14">PpDF2C</text></g>
<g id="leaf-PtDF3C"><text class="t e" transform="rotate(17.6852)" x="-978" y="14">PtDF3C</text></g>
<g id="leaf-PtDF4C"><text class="t e" transform="rotate(20.9259)" x="-978" y="14">PtDF4C</text></g>
<g id="leaf-TcYTH4"><use xlink:href="#s" transform="rotate(24.1667) translate(-992 0)"/><text class="t e" transform="rotate(24.1667)" x="-1036" y="14">TcYTH4</text></g>
<g id="leaf-OsDF2C"><text class="t e" transform="rotate(27.4074)" x="-978" y="14">OsDF2C</text></g>
<g id="leaf-CcDF5C"><text class="t e" transform="rotate(30.6481)" x="-978" y="14">CcDF5C</text></g>
<g id="leaf-CcDF6C"><text class="t e" transform="rotate(33.8889)" x="-978" y="14">CcDF6C</text></g>
<g id="leaf-AtECT6"><text class="t e" transform="rotate(37.1296)" x="-978" y="14">AtECT6</text></g>
<g id="leaf-AtECT7"><text class="t e" transform="rotate(40.3704)" x="-978" y="14">AtECT7</text></g>
<g id="leaf-PtDF1C"><text class="t e" transform="rotate(43.6111)" x="-978" y="14">PtDF1C</text></g>
<g id="leaf-PtDF2C"><text class="t e" transform="rotate(46.8519)" x="-978" y="14">PtDF2C</text></g>
<g id="leaf-GmDF3C"><text class="t e" transform="rotate(50.0926)" x="-978" y="14">GmDF3C</text></g>
<g id="leaf-GmDF4C"><text class="t e" transform="rotate(53.3333)" x="-978" y="14">GmDF4C</text></g>
<g id="leaf-GmDF1C"><text class="t e" transform="rotate(56.5741)" x="-978" y="14">GmDF1C</text></g>
<g id="leaf-GmDF2C"><text class="t e" transform="rotate(59.8148)" x="-978" y="14">GmDF2C</text></g>
<g id="leaf-VvDF1C"><text class="t e" transform="rotate(63.0556)" x="-978" y="14">VvDF1C</text></g>
<g id="leaf-PpDF1C"><text class="t e" transform="rotate(66.2963)" x="-978" y="14">PpDF1C</text></g>
<g id="leaf-OsDF4C"><text class="t e" transform="rotate(69.537)" x="-978" y="14">OsDF4C</text></g>
<g id="leaf-OsDF5C"><text class="t e" transform="rotate(72.7778)" x="-978" y="14">OsDF5C</text></g>
<g id="leaf-ZmDF5C"><text class="t e" transform="rotate(76.0185)" x="-978" y="14">ZmDF5C</text></g>
<g id="leaf-CcDF1C"><text class="t e" transform="rotate(79.2593)" x="-978" y="14">CcDF1C</text></g>
<g id="leaf-AtECT11"><text class="t e" transform="rotate(82.5)" x="-978" y="14">AtECT11</text></g>
<g id="leaf-PtDF5C"><text class="t e" transform="rotate(85.7407)" x="-978" y="14">PtDF5C</text></g>
<g id="leaf-PtDF6C"><text class="t e" transform="rotate(88.9815)" x="-978" y="14">PtDF6C</text></g>
<g id="leaf-VvDF3C"><text class="t" transform="rotate(272.2222)" x="966" y="14">VvDF3C</text></g>
<g id="leaf-PpDF3C"><text class="t" transform="rotate(275.463)" x="966" y="14">PpDF3C</text></g>
<g id="leaf-OsDF3C"><text class="t" transform="rotate(278.7037)" x="966" y="14">OsDF3C</text></g>
<g id="leaf-ZmDF3C"><text class="t" transform="rotate(281.9444)" x="966" y="14">ZmDF3C</text></g>
<g id="leaf-ZmDF4C"><text class="t" transform="rotate(285.1852)" x="966" y="14">ZmDF4C</text></g>
<g id="leaf-VvDC1B"><text class="t" transform="rotate(288.4259)" x="966" y="14">VvDC1B</text></g>
<g id="leaf-CcDC1B"><text class="t" transform="rotate(291.6667)" x="966" y="14">CcDC1B</text></g>
<g id="leaf-PtDC1B"><text class="t" transform="rotate(294.9074)" x="966" y="14">PtDC1B</text></g>
<g id="leaf-PpDC1B"><text class="t" transform="rotate(298.1481)" x="966" y="14">PpDC1B</text></g>
<g id="leaf-AtECT12"><text class="t" transform="rotate(301.3889)" x="966" y="14">AtECT12</text></g>
<g id="leaf-GmDC1B"><text class="t" transform="rotate(304.6296)" x="966" y="14">GmDC1B</text></g>
<g id="leaf-GmDC2B"><text class="t" transform="rotate(307.8704)" x="966" y="14">GmDC2B</text></g>
<g id="leaf-TcYTH5"><use xlink:href="#s" transform="rotate(311.1111) translate(992 0)"/><text class="t" transform="rotate(311.1111)" x="1030" y="14">TcYTH5</text></g>
<g id="leaf-PtDC1A"><text class="t" transform="rotate(314.3519)" x="966" y="14">PtDC1A</text></g>
<g id="leaf-PtDC2A"><text class="t" transform="rotate(317.5926)" x="966" y="14">PtDC2A</text></g>
<g id="leaf-TcYTH6"><use xlink:href="#s" transform="rotate(320.8333) translate(992 0)"/><text class="t" transform="rotate(320.8333)" x="1030" y="14">TcYTH6</text></g>
<g id="leaf-OsDC1A"><text class="t" transform="rotate(324.0741)" x="966" y="14">OsDC1A</text></g>
<g id="leaf-ZmDC1A"><text class="t" transform="rotate(327.3148)" x="966" y="14">ZmDC1A</text></g>
<g id="leaf-AtCPSF30"><text class="t" transform="rotate(330.5556)" x="966" y="14">AtCPSF30</text></g>
<g id="leaf-PpDC1A"><text class="t" transform="rotate(333.7963)" x="966" y="14">PpDC1A</text></g>
<g id="leaf-CcDC1A"><text class="t" transform="rotate(337.037)" x="966" y="14">CcDC1A</text></g>
<g id="leaf-VvDC1A"><text class="t" transform="rotate(340.2778)" x="966" y="14">VvDC1A</text></g>
<g id="leaf-GmDC1A"><text class="t" transform="rotate(343.5185)" x="966" y="14">GmDC1A</text></g>
<g id="leaf-GmDC2A"><text class="t" transform="rotate(346.7593)" x="966" y="14">GmDC2A</text></g>
</g>
<g id="bootstrap">
<text class="b" transform="rotate(1.6204)" x="897.5" y="10.5">100</text>
<text class="b" transform="rotate(4.0509)" x="834.1" y="10.5">37</text>
<text class="b" transform="rotate(6.8866)" x="770.6" y="10.5">18</text>
<text class="b" transform="rotate(14.5833)" x="897.5" y="10.5">96</text>
<text class="b" transform="rotate(10.735)" x="707.1" y="10.5">24</text>
<text class="b" transform="rotate(21.0648)" x="897.5" y="10.5">100</text>
<text class="b" transform="rotate(15.8999)" x="643.7" y="10.5">49</text>
<text class="b" transform="rotate(20.9129)" x="580.2" y="10.5">63</text>
<text class="b" transform="rotate(30.787)" x="897.5" y="10.5">88</text>
<text class="b" transform="rotate(25.85)" x="516.7" y="10.5">12</text>
<text class="b" transform="rotate(37.2685)" x="897.5" y="10.5">100</text>
<text class="b" transform="rotate(39.6991)" x="834.1" y="10.5">100</text>
<text class="b" transform="rotate(56.713)" x="897.5" y="10.5">100</text>
<text class="b" transform="rotate(54.2824)" x="834.1" y="10.5">100</text>
<text class="b" transform="rotate(51.4468)" x="770.6" y="10.5">50</text>
<text class="b" transform="rotate(48.4086)" x="707.1" y="10.5">32</text>
<text class="b" transform="rotate(44.0539)" x="643.7" y="10.5">14</text>
<text class="b" transform="rotate(34.952)" x="453.3" y="10.5">39</text>
<text class="b" transform="rotate(63.1944)" x="897.5" y="10.5">100</text>
<text class="b" transform="rotate(72.9167)" x="897.5" y="10.5">100</text>
<text class="b" transform="rotate(70.4861)" x="834.1" y="10.5">100</text>
<text class="b" transform="rotate(66.8403)" x="770.6" y="10.5">76</text>
<text class="b" transform="rotate(50.8962)" x="389.8" y="10.5">89</text>
<text class="b" transform="rotate(64.337)" x="326.3" y="10.5">30</text>
<text class="b" transform="rotate(82.6389)" x="897.5" y="10.5">98</text>
<text class="b" transform="rotate(85.0694)" x="834.1" y="10.5">100</text>
<text class="b" transform="rotate(87.9051)" x="770.6" y="10.5">79</text>
<text class="b e" transform="rotate(-89.0567)" x="-707.1" y="10.5">100</text>
<text class="b e" transform="rotate(-81.1574)" x="-897.5" y="10.5">100</text>
<text class="b e" transform="rotate(-78.7268)" x="-834.1" y="10.5">81</text>
<text class="b e" transform="rotate(-75.8912)" x="-770.6" y="10.5">51</text>
<text class="b e" transform="rotate(-72.853)" x="-707.1" y="10.5">95</text>
<text class="b e" transform="rotate(-61.713)" x="-897.5" y="10.5">100</text>
<text class="b e" transform="rotate(-59.2824)" x="-834.1" y="10.5">46</text>
<text class="b e" transform="rotate(-51.9907)" x="-897.5" y="10.5">46</text>
<text class="b e" transform="rotate(-42.2685)" x="-897.5" y="10.5">100</text>
<text class="b e" transform="rotate(-29.3056)" x="-897.5" y="10.5">98</text>
<text class="b e" transform="rotate(-31.7361)" x="-834.1" y="10.5">86</text>
<text class="b e" transform="rotate(-34.5718)" x="-770.6" y="10.5">69</text>
<text class="b e" transform="rotate(-38.4201)" x="-707.1" y="10.5">64</text>
<text class="b e" transform="rotate(-42.7749)" x="-643.7" y="10.5">52</text>
<text class="b e" transform="rotate(-47.3828)" x="-580.2" y="10.5">91</text>
<text class="b e" transform="rotate(-53.3326)" x="-516.7" y="10.5">32</text>
<text class="b e" transform="rotate(-59.9534)" x="-453.3" y="10.5">19</text>
<text class="b e" transform="rotate(-66.4032)" x="-389.8" y="10.5">46</text>
<text class="b e" transform="rotate(-77.7299)" x="-326.3" y="10.5">55</text>
<text class="b" transform="rotate(83.3036)" x="262.9" y="10.5">36</text>
<text class="b e" transform="rotate(-13.1018)" x="-897.5" y="10.5">98</text>
<text class="b e" transform="rotate(-10.6712)" x="-834.1" y="10.5">100</text>
<text class="b e" transform="rotate(-3.3796)" x="-897.5" y="10.5">72</text>
<text class="b e" transform="rotate(-0.949)" x="-834.1" y="10.5">57</text>
<text class="b e" transform="rotate(6.3426)" x="-897.5" y="10.5">100</text>
<text class="b e" transform="rotate(8.7732)" x="-834.1" y="10.5">32</text>
<text class="b e" transform="rotate(19.3056)" x="-897.5" y="10.5">99</text>
<text class="b e" transform="rotate(16.875)" x="-834.1" y="10.5">47</text>
<text class="b e" transform="rotate(12.8241)" x="-770.6" y="10.5">37</text>
<text class="b e" transform="rotate(5.9376)" x="-707.1" y="10.5">63</text>
<text class="b e" transform="rotate(-2.3668)" x="-643.7" y="10.5">32</text>
<text class="b e" transform="rotate(-10.1649)" x="-580.2" y="10.5">42</text>
<text class="b e" transform="rotate(-15.6843)" x="-516.7" y="10.5">29</text>
<text class="b e" transform="rotate(-20.0643)" x="-453.3" y="10.5">49</text>
<text class="b e" transform="rotate(-58.3803)" x="-199.4" y="10.5">23</text>
<text class="b e" transform="rotate(32.2685)" x="-897.5" y="10.5">89</text>
<text class="b e" transform="rotate(38.75)" x="-897.5" y="10.5">100</text>
<text class="b e" transform="rotate(45.2315)" x="-897.5" y="10.5">100</text>
<text class="b e" transform="rotate(51.713)" x="-897.5" y="10.5">100</text>
<text class="b e" transform="rotate(58.1944)" x="-897.5" y="10.5">100</text>
<text class="b e" transform="rotate(64.6759)" x="-897.5" y="10.5">73</text>
<text class="b e" transform="rotate(61.4352)" x="-834.1" y="10.5">35</text>
<text class="b e" transform="rotate(56.5741)" x="-770.6" y="10.5">42</text>
<text class="b e" transform="rotate(50.9028)" x="-707.1" y="10.5">49</text>
<text class="b e" transform="rotate(44.8264)" x="-643.7" y="10.5">49</text>
<text class="b e" transform="rotate(38.5475)" x="-580.2" y="10.5">85</text>
<text class="b e" transform="rotate(32.9775)" x="-516.7" y="10.5">87</text>
<text class="b e" transform="rotate(28.5721)" x="-453.3" y="10.5">24</text>
<text class="b e" transform="rotate(-14.9041)" x="-135.9" y="10.5">66</text>
<text class="b e" transform="rotate(71.1574)" x="-897.5" y="10.5">50</text>
<text class="b e" transform="rotate(73.588)" x="-834.1" y="10.5">100</text>
<text class="b e" transform="rotate(87.3611)" x="-897.5" y="10.5">100</text>
<text class="b" transform="rotate(273.8426)" x="897.5" y="10.5">54</text>
<text class="b" transform="rotate(270.6019)" x="834.1" y="10.5">86</text>
<text class="b e" transform="rotate(86.551)" x="-770.6" y="10.5">94</text>
<text class="b e" transform="rotate(82.9052)" x="-707.1" y="10.5">76</text>
<text class="b e" transform="rotate(78.2466)" x="-643.7" y="10.5">91</text>
<text class="b e" transform="rotate(31.6713)" x="-72.5" y="10.5">92</text>
<text class="b" transform="rotate(283.5648)" x="897.5" y="10.5">100</text>
<text class="b" transform="rotate(281.1343)" x="834.1" y="10.5">100</text>
<text class="b" transform="rotate(290.0463)" x="897.5" y="10.5">74</text>
<text class="b" transform="rotate(292.4769)" x="834.1" y="10.5">57</text>
<text class="b" transform="rotate(295.3125)" x="770.6" y="10.5">76</text>
<text class="b" transform="rotate(298.3507)" x="707.1" y="10.5">66</text>
<text class="b" transform="rotate(306.25)" x="897.5" y="10.5">100</text>
<text class="b" transform="rotate(302.3004)" x="643.7" y="10.5">58</text>
<text class="b" transform="rotate(306.7058)" x="580.2" y="10.5">100</text>
<text class="b" transform="rotate(315.9722)" x="897.5" y="10.5">88</text>
<text class="b" transform="rotate(325.6944)" x="897.5" y="10.5">100</text>
<text class="b" transform="rotate(345.1389)" x="897.5" y="10.5">92</text>
<text class="b" transform="rotate(342.7083)" x="834.1" y="10.5">61</text>
<text class="b" transform="rotate(339.8727)" x="770.6" y="10.5">67</text>
<text class="b" transform="rotate(336.8345)" x="707.1" y="10.5">76</text>
<text class="b" transform="rotate(333.695)" x="643.7" y="10.5">47</text>
<text class="b" transform="rotate(329.6947)" x="580.2" y="10.5">47</text>
<text class="b" transform="rotate(325.264)" x="516.7" y="10.5">57</text>
<text class="b" transform="rotate(320.6181)" x="453.3" y="10.5">100</text>
<text class="b" transform="rotate(313.662)" x="389.8" y="10.5">100</text>
</g>
<g id="clade-labels">
<text class="c" transform="rotate(-51.111)" x="0" y="1370">YTHDFA</text>
<text class="c" transform="rotate(26.667)" x="0" y="1370">YTHDFB</text>
<text class="c" transform="rotate(310.37)" x="0" y="-1329">YTHDFC</text>
<text class="c" transform="rotate(29.768)" x="0" y="-1327">YTHDCB</text>
<text class="c" transform="rotate(60.556)" x="0" y="-1322">YTHDCA</text>
</g>
</g>
</svg>
